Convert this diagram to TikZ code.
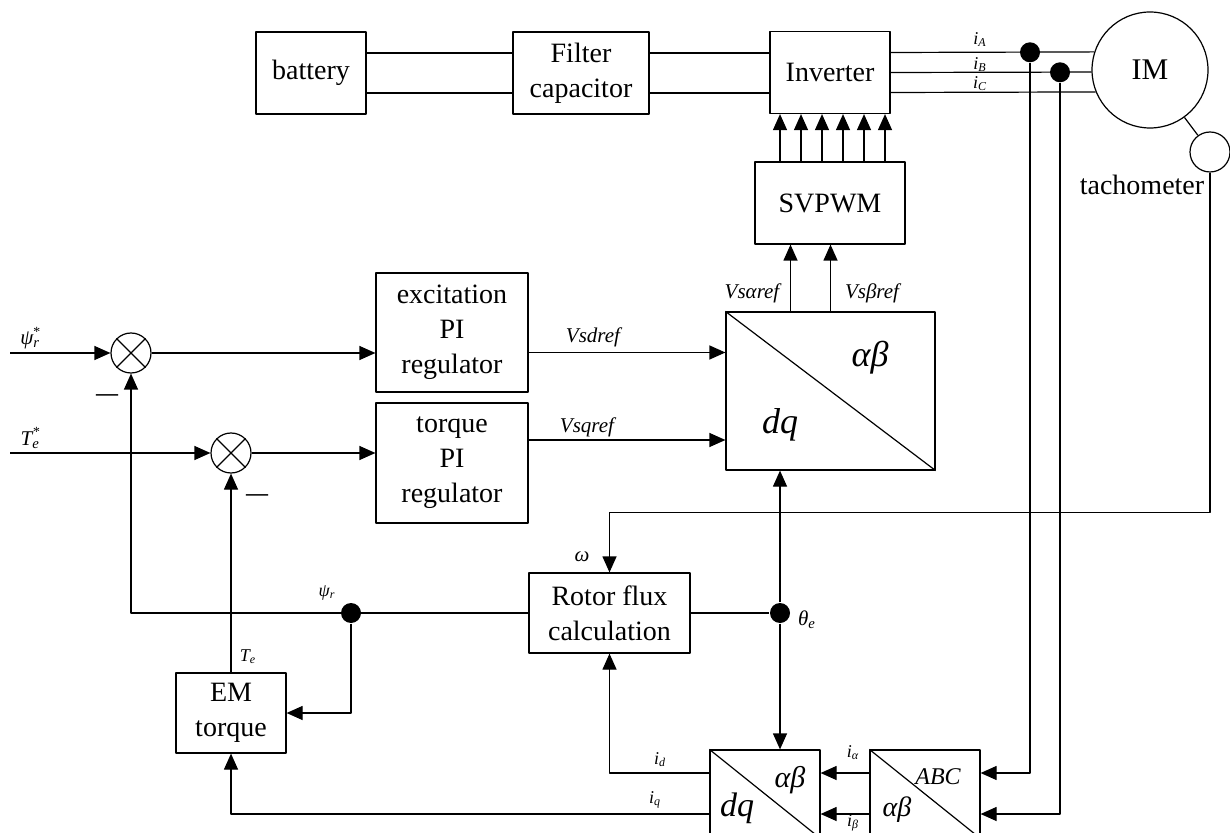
\documentclass[tikz,border=0pt]{standalone}
\usepackage{fontspec}
\setmainfont{Liberation Serif}
\usepackage{tikz}
\usetikzlibrary{arrows.meta,calc}
\tikzset{>={Triangle[length=8pt,width=7pt]}}
\tikzset{
  block/.style={draw,align=center,inner sep=0pt,font=\fontsize{14}{17.5}\selectfont},
  sumj/.style={draw,circle,minimum size=20pt,inner sep=0pt},
  dot/.style={fill,circle,minimum size=10pt,inner sep=0pt},
  lbl/.style={inner sep=0pt,font=\fontsize{10.5}{12}\selectfont\itshape},
  slbl/.style={inner sep=0pt,font=\fontsize{9}{10}\selectfont\itshape},
  big/.style={inner sep=0pt,font=\fontsize{18}{20}\selectfont\itshape}
}
\newcommand{\symb}[3]{#1\textsubscript{#2}\kern-0.35em\raisebox{0.9ex}{\scriptsize #3}}

\begin{document}
\begin{tikzpicture}[x=0.5pt,y=-0.5pt,line width=0.6pt,line join=round]
\useasboundingbox (0,0) rectangle (1230,833);
\clip (0,0) rectangle (1230,833);
% power stage
\node[block,minimum width=55pt,minimum height=41pt] (bat) at (311,73) {battery};
\node[block,minimum width=68pt,minimum height=41pt] (filt) at (581,73) {Filter\\capacitor};
\node[block,minimum width=60pt,minimum height=41pt] (inv) at (830,72.5) {Inverter};
\node[draw,circle,minimum size=58pt,inner sep=0pt,font=\fontsize{15}{17}\selectfont] (IM) at (1150,70) {IM};
\node[draw,circle,minimum size=20pt,inner sep=0pt] (tach) at (1210,152) {};
\node[block,draw=none] (tachtxt) at (1142,185) {tachometer};
\node[block,minimum width=75pt,minimum height=41pt] (svm) at (830,203) {SVPWM};
% controllers
\node[block,minimum width=76pt,minimum height=59.5pt] (exc) at (452,332.5) {excitation\\PI\\regulator};
\node[block,minimum width=76pt,minimum height=60pt] (tq) at (452,463) {torque\\PI\\regulator};
\node[sumj] (s1) at (131,353) {};
\node[sumj] (s2) at (231,453) {};
\node[draw,minimum width=104.5pt,minimum height=79pt] (dqab) at (830.5,391) {};
\node[block,minimum width=80.5pt,minimum height=40pt] (rf) at (609.5,613) {Rotor flux\\calculation};
\node[block,minimum width=55pt,minimum height=40pt] (em) at (231,713) {EM\\torque};
\node[draw,minimum width=55pt,minimum height=44pt] (dq2) at (765,794) {};
\node[draw,minimum width=55pt,minimum height=44pt] (abc) at (925,794) {};
\coordinate (psin) at (10,353);
\coordinate (tein) at (10,453);

\foreach \s in {10,-10}
  \draw ([yshift=\s pt]bat.east) -- ([yshift=\s pt]filt.west)
        ([yshift=\s pt]filt.east) -- ([yshift=\s pt]filt.east -| inv.west);
\draw ([yshift=10pt]inv.east) -- (IM.162) (inv.east) -- (IM.182) ([yshift=-10pt]inv.east) -- (IM.202);
\draw (IM.-54) -- (tach.126);
\foreach \dx in {-25,-14.5,-4,6.5,17,27.5}
  \draw[->] ([xshift=\dx pt]svm.north) -- ([xshift=\dx pt]svm.north |- inv.south);
\foreach \dx in {-20,0}
  \draw[->] ([xshift=\dx pt]dqab.north) -- ([xshift=\dx pt]dqab.north |- svm.south);
\foreach \b in {dqab,dq2,abc}
  \draw (\b.north west) -- (\b.south east);
\foreach \s in {s1,s2}
  \draw (\s.45) -- (\s.225) (\s.135) -- (\s.315);

\draw[->] (psin) -- (s1);
\draw[->] (tein) -- (s2);
\draw[->] (s1) -- (s1 -| exc.west);
\draw[->] (s2) -- (s2 -| tq.west);
\draw[->] ([yshift=-10pt]exc.east) -- ([yshift=-10pt]exc.east -| dqab.west);
\draw[->] ([yshift=11.5pt]tq.east) -- ([yshift=11.5pt]tq.east -| dqab.west);

\node[dot] (ps) at (351,613) {};
\node[dot] (th) at (780,613) {};
\node[dot] (dA) at (1030,52.3) {};
\node[dot] (dB) at (1060,72.3) {};
\draw[->] (rf.west) -| (s1.south);
\draw[->] (ps) |- (em.east);
\draw[->] (em.north) -- (s2.south);
\draw (rf.east) -- (th);
\draw[->] (th) -- (th |- dqab.south);
\draw[->] (th) -- (th |- dq2.north);
\draw[->] (tach.south) |- ([yshift=30pt]rf.north) -- (rf.north);
\draw[->] ([yshift=10.5pt]dq2.west) -| (rf.south);
\draw[->] ([yshift=-10pt]dq2.west) -| (em.south);
\draw[->] ([yshift=10.5pt]abc.west) -- ([yshift=10.5pt]abc.west -| dq2.east);
\draw[->] ([yshift=-10pt]abc.west) -- ([yshift=-10pt]abc.west -| dq2.east);
\draw[->] (dA) |- ([yshift=10.5pt]abc.east);
\draw[->] (dB) |- ([yshift=-10pt]abc.east);

% labels
\node[lbl] (lpsi) at (30,338) {\symb{ψ}{r}{*}};
\node[lbl] (lte) at (30,438) {\symb{T}{e}{*}};
\node[inner sep=0pt,font=\fontsize{11}{12}\selectfont\bfseries] (m1) at (107,398) {—};
\node[inner sep=0pt,font=\fontsize{11}{12}\selectfont\bfseries] (m2) at (257,498) {—};
\node[lbl] (lvd) at (593,337) {Vsdref};
\node[lbl] (lvq) at (587,427) {Vsqref};
\node[lbl] (lva) at (752,293) {Vsαref};
\node[lbl] (lvb) at (872,293) {Vsβref};
\node[big] (ab1) at (870,358) {αβ};
\node[big] (dq1) at (780,425) {dq};
\node[lbl] (lw) at (582,557) {ω};
\node[slbl] (lpr) at (327,593) {ψ\textsubscript{r}};
\node[slbl] (ltq) at (248,657) {T\textsubscript{e}};
\node[lbl] (lth) at (807,620) {θ\textsubscript{e}};
\node[slbl] (lid) at (660,760) {i\textsubscript{d}};
\node[slbl] (liq) at (655,800) {i\textsubscript{q}};
\node[slbl] (lia) at (853,753) {i\textsubscript{α}};
\node[slbl] (lib) at (853,823) {i\textsubscript{β}};
\node[slbl] (liA) at (980,40) {i\textsubscript{A}};
\node[slbl] (liB) at (980,65) {i\textsubscript{B}};
\node[slbl] (liC) at (980,84) {i\textsubscript{C}};
\node[inner sep=0pt,font=\fontsize{15}{17}\selectfont\itshape] (ab2) at (790,780) {αβ};
\node[inner sep=0pt,font=\fontsize{17}{19}\selectfont\itshape] (dqb) at (737,808) {dq};
\node[inner sep=0pt,font=\fontsize{12}{14}\selectfont\itshape] (labc) at (938,777) {ABC};
\node[inner sep=0pt,font=\fontsize{14}{16}\selectfont\itshape] (ab3) at (897,810) {αβ};
\end{tikzpicture}
\end{document}
